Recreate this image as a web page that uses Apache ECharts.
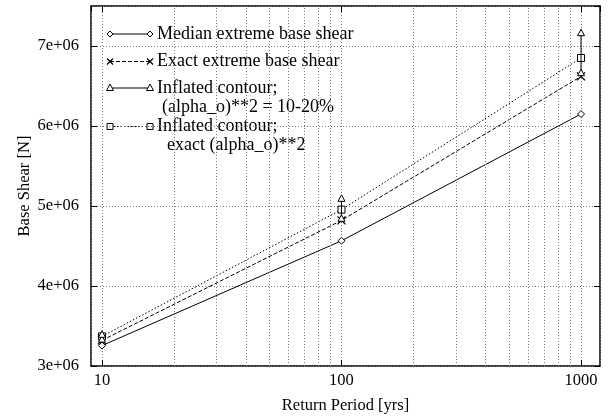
<!DOCTYPE html>
<html>
<head>
<meta charset="utf-8">
<script src="https://cdn.jsdelivr.net/npm/echarts@6/dist/echarts.min.js"></script>
<style>html,body{margin:0;padding:0;background:#fff}#c{width:615px;height:420px}</style>
</head>
<body>
<div id="c"></div>
<script>
// ---- data ----
const returnPeriods = [10, 100, 1000];
const medianShear = [3.255e6, 4.565e6, 6.15e6];
const exactShear = [3.32e6, 4.82e6, 6.62e6];
const inflatedLow = [3.33e6, 4.84e6, 6.66e6];
const inflatedHigh = [3.39e6, 5.09e6, 7.16e6];
const inflatedExact = [3.37e6, 4.955e6, 6.85e6];
const minorXTicks = [20, 30, 40, 50, 60, 70, 80, 90, 200, 300, 400, 500, 600, 700, 800, 900];
const legendNames = ['Median extreme base shear', 'Exact extreme base shear',
  'Inflated contour;', '(alpha_o)**2 = 10-20%', 'Inflated contour;', 'exact (alpha_o)**2'];

const FONT = 'Liberation Serif';
const FS = 16.5;
const LFS = 18;
const pairs = (ys) => returnPeriods.map((x, i) => [x, ys[i]]);
const gridStyle = { color: '#777', type: [1, 2], width: 1 };
const crossPath = 'path://M0 0L10 10M10 0L0 10';

const chart = echarts.init(document.getElementById('c'), null, { renderer: 'canvas' });

function tri(cx, cy) {
  return { type: 'polygon', shape: { points: [[cx, cy - 4], [cx - 3.5, cy + 2.5], [cx + 3.5, cy + 2.5]] },
    style: { fill: '#fff', stroke: '#000', lineWidth: 1 } };
}
function diamond(cx, cy) {
  return { type: 'polygon', shape: { points: [[cx, cy - 3], [cx + 3, cy], [cx, cy + 3], [cx - 3, cy]] },
    style: { fill: '#fff', stroke: '#000', lineWidth: 1 } };
}
function crossA(cx, cy) {
  return { type: 'polyline', shape: { points: [[cx - 3, cy - 3], [cx + 3, cy + 3]] }, style: { stroke: '#000', lineWidth: 1.2 } };
}
function crossB(cx, cy) {
  return { type: 'polyline', shape: { points: [[cx + 3, cy - 3], [cx - 3, cy + 3]] }, style: { stroke: '#000', lineWidth: 1.2 } };
}
function square(cx, cy) {
  return { type: 'rect', shape: { x: cx - 3, y: cy - 3, width: 6, height: 6 }, style: { fill: '#fff', stroke: '#000', lineWidth: 1 } };
}
function seg(x1, x2, y, dash) {
  return { type: 'line', shape: { x1: x1, y1: y, x2: x2, y2: y }, style: { stroke: '#000', lineWidth: 1, lineDash: dash } };
}
function txt(x, y, s) {
  return { type: 'text', x: x, y: y, style: { text: s, font: LFS + 'px "' + FONT + '"', fill: '#000', textVerticalAlign: 'middle' } };
}
const LX1 = 110, LX2 = 150, TX = 157;
const rows = [34, 61.5, 88, 126.5];
const legendGraphic = [
  seg(LX1, LX2, rows[0], null), diamond(LX1, rows[0]), diamond(LX2, rows[0]), txt(TX, rows[0], legendNames[0]),
  seg(LX1, LX2, rows[1], [4, 2]), crossA(LX1, rows[1]), crossB(LX1, rows[1]), crossA(LX2, rows[1]), crossB(LX2, rows[1]), txt(TX, rows[1], legendNames[1]),
  seg(LX1, LX2, rows[2], null), tri(LX1, rows[2]), tri(LX2, rows[2]), txt(TX, rows[2], legendNames[2]), txt(TX + 5, rows[2] + 19, legendNames[3]),
  seg(LX1, LX2, rows[3], [1.5, 2]), square(LX1, rows[3]), square(LX2, rows[3]), txt(TX, rows[3], legendNames[4]), txt(TX + 10, rows[3] + 19, legendNames[5])
];

const option = {
  backgroundColor: '#fff',
  animation: false,
  textStyle: { fontFamily: FONT },
  grid: { left: 91, right: 15, top: 6, bottom: 54, show: true, borderColor: '#000', borderWidth: 1.5, backgroundColor: 'transparent' },
  xAxis: [{
    type: 'log', logBase: 10, min: 9, max: 1200,
    name: 'Return Period [yrs]', nameLocation: 'middle', nameGap: 31, nameMoveOverlap: false,
    nameTextStyle: { fontFamily: FONT, fontSize: FS, color: '#000' },
    axisLine: { show: false },
    axisTick: { show: true, inside: true, length: 6, lineStyle: { color: '#000' } },
    axisLabel: { show: true, margin: 6, fontFamily: FONT, fontSize: FS, color: '#000', showMinLabel: false, showMaxLabel: false, formatter: (v) => String(Math.round(v)) },
    splitLine: { show: true, lineStyle: gridStyle }
  }, {
    type: 'log', logBase: 10, min: 9, max: 1200, position: 'top',
    axisLine: { show: false }, axisLabel: { show: false }, splitLine: { show: false },
    axisTick: { show: true, inside: true, length: 6, lineStyle: { color: '#000' } }
  }],
  yAxis: [{
    type: 'value', min: 3e6, max: 7.5e6, interval: 1e6,
    name: 'Base Shear [N]', nameLocation: 'middle', nameGap: 58, nameRotate: 90, nameMoveOverlap: false,
    nameTextStyle: { fontFamily: FONT, fontSize: FS, color: '#000' },
    axisLine: { show: false },
    axisTick: { show: true, inside: true, length: 6, lineStyle: { color: '#000' } },
    axisLabel: { show: true, margin: 12, fontFamily: FONT, fontSize: FS, color: '#000', showMaxLabel: false,
      formatter: (v) => (v / 1e6) + 'e+06' },
    splitLine: { show: true, lineStyle: gridStyle }
  }, {
    type: 'value', min: 3e6, max: 7.5e6, interval: 1e6, position: 'right',
    axisLine: { show: false }, axisLabel: { show: false }, splitLine: { show: false },
    axisTick: { show: true, inside: true, length: 6, lineStyle: { color: '#000' } }
  }],
  series: [
    {
      name: legendNames[0], type: 'line', data: pairs(medianShear), xAxisIndex: 0, yAxisIndex: 0,
      symbol: 'diamond', symbolSize: 7, showAllSymbol: true,
      lineStyle: { color: '#000', width: 1 },
      itemStyle: { color: '#fff', borderColor: '#000', borderWidth: 1 },
      markLine: {
        silent: true, symbol: 'none', label: { show: false },
        lineStyle: gridStyle, emphasis: { disabled: true },
        data: minorXTicks.map((v) => ({ xAxis: v }))
      },
      z: 3
    },
    {
      name: legendNames[1], type: 'line', data: pairs(exactShear),
      symbol: crossPath, symbolSize: 8,
      lineStyle: { color: '#000', width: 1, type: [4, 2] },
      itemStyle: { color: 'none', borderColor: '#000', borderWidth: 1.3 },
      z: 3
    },
    {
      name: legendNames[4] + ' ' + legendNames[5], type: 'line', data: pairs(inflatedExact),
      symbol: 'rect', symbolSize: 7,
      lineStyle: { color: '#000', width: 1, type: [1.5, 2] },
      itemStyle: { color: '#fff', borderColor: '#000', borderWidth: 1 },
      z: 3
    },
    {
      name: legendNames[2] + ' ' + legendNames[3], type: 'custom',
      data: returnPeriods.map((x, i) => [x, inflatedLow[i], inflatedHigh[i]]),
      encode: { x: 0, y: [1, 2] },
      renderItem: function (params, api) {
        const x = api.value(0);
        const p1 = api.coord([x, api.value(1)]);
        const p2 = api.coord([x, api.value(2)]);
        return { type: 'group', children: [
          { type: 'line', shape: { x1: p1[0], y1: p1[1], x2: p2[0], y2: p2[1] }, style: { stroke: '#000', lineWidth: 1 } },
          tri(p1[0], p1[1]), tri(p2[0], p2[1])
        ] };
      },
      z: 4
    }
  ],
  graphic: legendGraphic
};
chart.setOption(option);
</script>
</body>
</html>
